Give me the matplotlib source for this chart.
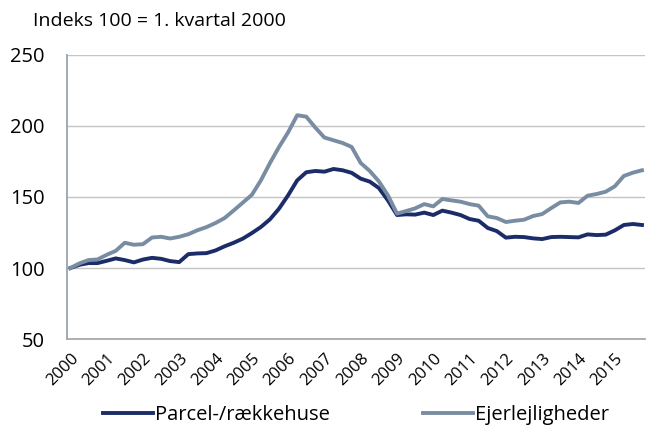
import matplotlib.pyplot as plt
import numpy as np

plt.rcParams['font.family'] = ['Open Sans', 'DejaVu Sans']

# Quarterly index, 2000Q1 = 100 (2000Q1 - 2015Q4)
years = [str(y) for y in range(2000, 2016)]
parcel = [100, 102.3, 103.5, 103.5, 105.1, 106.8, 105.6, 104.0,
          106.0, 107.2, 106.5, 104.9, 104.2, 109.8, 110.3, 110.5,
          112.4, 115.3, 117.8, 120.7, 124.6, 128.9, 134.3, 141.8,
          151.2, 161.7, 167.4, 168.3, 167.8, 169.7, 168.8, 167.0,
          162.9, 160.8, 156.3, 147.6, 137.3, 137.8, 137.6, 139.0,
          137.3, 140.4, 139.0, 137.3, 134.5, 133.3, 128.2, 126.0,
          121.4, 122.0, 121.8, 120.9, 120.4, 121.8, 122.0, 121.8,
          121.6, 123.7, 123.2, 123.5, 126.5, 130.3, 131.0, 130.3]
ejer = [100, 103.3, 105.6, 106.1, 109.3, 112.1, 117.8, 116.4,
        116.8, 121.5, 122.0, 120.8, 122.0, 123.8, 126.6, 128.8,
        131.7, 135.2, 140.5, 146.0, 151.5, 161.7, 173.9, 185.2,
        195.5, 207.5, 206.5, 198.8, 191.8, 189.9, 188.0, 185.2,
        173.9, 168.3, 161.0, 151.2, 138.3, 140.1, 142.0, 145.0,
        143.4, 148.6, 147.6, 146.7, 145.0, 143.9, 136.4, 135.2,
        132.4, 133.3, 134.0, 136.6, 138.0, 142.2, 146.2, 146.7,
        145.8, 150.9, 152.1, 153.7, 157.5, 164.8, 167.1, 168.8]

dark = '#1c2c68'
light = '#798da2'

fig = plt.figure(figsize=(6.46, 4.25), dpi=100)
ax = fig.add_axes([0.104, 0.202, 0.894, 0.669])

x = np.arange(len(parcel))
ax.plot(x, parcel, color=dark, lw=2.8, label='Parcel-/rækkehuse', solid_joinstyle='round')
ax.plot(x, ejer, color=light, lw=2.8, label='Ejerlejligheder', solid_joinstyle='round')

ax.set_ylim(50, 250)
ax.set_yticks([50, 100, 150, 200, 250])
ax.set_xlim(-0.35, 63.3)
ax.set_xticks(np.arange(0, 64, 4))
ax.set_xticklabels(years, rotation=45, ha='right', rotation_mode='anchor', fontsize=12)
ax.tick_params(axis='y', length=0, pad=16, labelsize=14.5)
ax.tick_params(axis='x', length=0, pad=8)

ax.grid(axis='y', color='#c4c4c4', lw=1)
ax.set_axisbelow(True)
for s in ['top', 'right']:
    ax.spines[s].set_visible(False)
ax.spines['left'].set_color('#98a4ad')
ax.spines['left'].set_linewidth(1.3)
ax.spines['bottom'].set_color('#a8a8a8')
ax.spines['bottom'].set_linewidth(1.3)

fig.text(33 / 646, 1 - 21 / 425, 'Indeks 100 = 1. kvartal 2000', fontsize=14, va='center')

fig.legend(loc='center', bbox_to_anchor=(356 / 646, 1 - 415 / 425), ncol=2, frameon=False,
           fontsize=14.5, handlelength=2.5, handletextpad=0.1, columnspacing=4.6)

fig.savefig('out.png', dpi=100)
